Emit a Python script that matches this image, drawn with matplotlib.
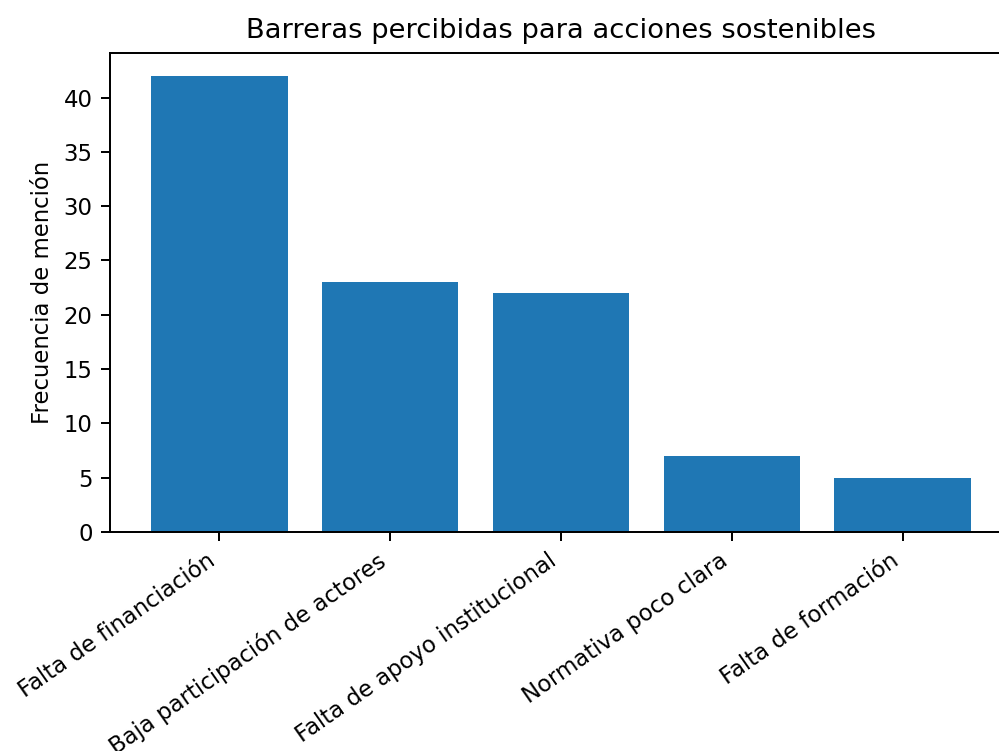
import matplotlib
matplotlib.use("Agg")
import matplotlib.pyplot as plt

barreras = ["Falta de financiación", "Baja participación de actores",
            "Falta de apoyo institucional", "Normativa poco clara", "Falta de formación"]
frecuencia = [42, 23, 22, 7, 5]

DPI = 178
plt.rcParams["font.size"] = 9.2
plt.rcParams["axes.titlesize"] = 11.1

fig = plt.figure(figsize=(999 / DPI, 751 / DPI), dpi=DPI)
# el eje derecho queda fuera del recorte, como en la imagen original
ax = fig.add_axes([110 / 999, 1 - 532 / 751, 902 / 999, 479 / 751])

ax.bar(barreras, frecuencia, color="#1f77b4")
ax.set_title("Barreras percibidas para acciones sostenibles")
ax.set_ylabel("Frecuencia de mención")
plt.setp(ax.get_xticklabels(), rotation=35, ha="right")

fig.savefig("out.png", dpi=DPI)
